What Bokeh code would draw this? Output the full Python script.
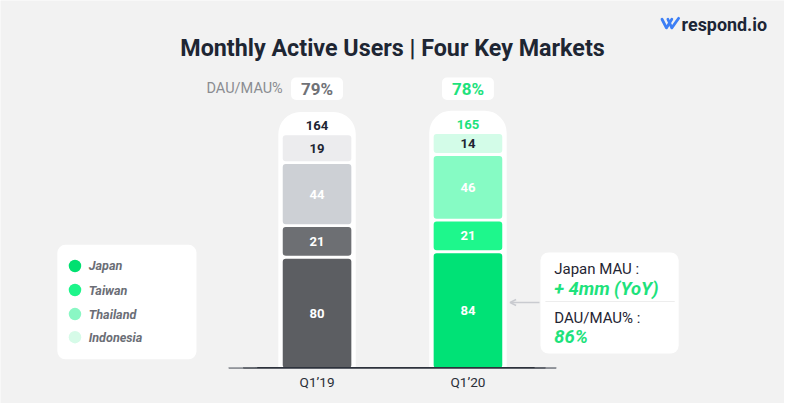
from bokeh.plotting import figure
from bokeh.models import Range1d, Arrow, OpenHead
from bokeh.core.properties import value
from bokeh.embed import file_html
from bokeh.resources import INLINE

# ---------------- data ----------------
quarters = ["Q1\u201919", "Q1\u201920"]
markets = ["Japan", "Taiwan", "Thailand", "Indonesia"]
mau_q119 = [80, 21, 44, 19]
mau_q120 = [84, 21, 46, 14]
totals = [164, 165]
dau_mau = [79, 78]
japan_mau_change = 4      # mm, YoY
japan_dau_mau = 86

# ---------------- styles ----------------
BG = "#f2f2f2"
DARK = "#1f2533"
GREEN_TXT = "#1ee27c"
colors_q119 = ["#5c5e62", "#6d6f73", "#cdd0d5", "#ececee"]
colors_q120 = ["#00e276", "#1ef78c", "#86fbc4", "#d3fce8"]
label_colors = [["white", "white", "white", DARK], ["white", "white", "white", DARK]]
legend_colors = ["#00e070", "#1df58a", "#8af7c4", "#d6fbe8"]

PX = 1.42           # reference pixels per data unit
BASE = 382          # reference pixel row of the baseline
GAP = 3 / PX        # gap between stacked segments (data units)


def Y(py):
    return (BASE - py) / PX


def fs(n):
    return f"{n * 0.97:.1f}px"


FONT = value("Roboto")

p = figure(width=784, height=403, x_range=Range1d(0, 800), y_range=Range1d(Y(419), Y(0)),
           output_backend="svg", toolbar_location=None, min_border=0,
           x_axis_location=None, y_axis_location=None)
p.grid.visible = False
p.outline_line_color = None
p.background_fill_color = BG
p.border_fill_color = BG

centers = [323, 477]
BAR_W = 70
PILL_W = 79

# ---------- pill backgrounds ----------
stack_tops = []
for series in (mau_q119, mau_q120):
    stack_tops.append(sum(series) + GAP * (len(series) - 1))
p.vbar(x=centers, width=PILL_W, bottom=0, top=[t + 17 for t in stack_tops],
       fill_color="white", line_color=None, border_radius=(22, 22, 0, 0))

# ---------- stacked segments ----------
for ci, (series, cols) in enumerate(((mau_q119, colors_q119), (mau_q120, colors_q120))):
    bottoms, tops = [], []
    cum = 0
    for i, v in enumerate(series):
        b = cum + (GAP if i > 0 else 0)
        bottoms.append(b)
        tops.append(b + v)
        cum = b + v
    xs = [centers[ci]] * len(series)
    p.vbar(x=xs, width=BAR_W, bottom=bottoms, top=tops, fill_color=cols,
           line_color=None, border_radius=3)
    p.text(x=xs, y=[(b + t) / 2 for b, t in zip(bottoms, tops)], text=[str(v) for v in series],
           text_color=label_colors[ci], text_font=FONT, text_font_style="bold",
           text_font_size=fs(13.5), text_align="center", text_baseline="middle")

# totals
p.text(x=centers, y=[t + 7 for t in stack_tops], text=[str(t) for t in totals],
       text_color=[DARK, GREEN_TXT], text_font=FONT, text_font_style="bold",
       text_font_size=fs(13.5), text_align="center", text_baseline="middle")

# baseline (dark centre, fading ends)
p.segment(x0=[233], y0=[0], x1=[567], y1=[0], line_color="#2d323c", line_width=1.6)
p.segment(x0=[233, 248, 545, 556], y0=[0] * 4, x1=[248, 262, 556, 567], y1=[0] * 4,
          line_color=["#a4a7ac", "#6a6e75", "#6a6e75", "#a4a7ac"], line_width=1.6)

# quarter labels
p.text(x=centers, y=Y(397), text=quarters, text_color="#2b2f38", text_font=FONT,
       text_font_size=fs(14), text_align="center", text_baseline="middle")

# ---------- DAU/MAU row ----------
p.text(x=[288], y=[Y(92)], text=["DAU/MAU%"], text_color="#8a8c91", text_font=FONT,
       text_font_size=fs(15), text_align="right", text_baseline="middle")
p.quad(left=[c - 26.5 for c in centers], right=[c + 26.5 for c in centers],
       top=Y(80), bottom=Y(103.5), fill_color="white", line_color=None, border_radius=5)
p.text(x=centers, y=Y(92), text=[f"{d}%" for d in dau_mau], text_color=["#707277", GREEN_TXT],
       text_font=FONT, text_font_style="bold", text_font_size=fs(17.5),
       text_align="center", text_baseline="middle")

# ---------- title & logo ----------
p.text(x=[400], y=[Y(49)], text=["Monthly Active Users | Four Key Markets"], text_color="#1e2633",
       text_font=FONT, text_font_style="bold", text_font_size=fs(24),
       text_align="center", text_baseline="middle")
p.multi_line(xs=[[675, 679.5, 685], [681, 685, 692]],
             ys=[[Y(19.5), Y(28.5), Y(19.5)], [Y(19.5), Y(28.5), Y(18.5)]],
             line_color="#3d7ff5", line_width=2.8, line_cap="round", line_join="round")
p.text(x=[695], y=[Y(25)], text=["respond.io"], text_color="#1c2536", text_font=FONT,
       text_font_style="bold", text_font_size=fs(18.5), text_align="left", text_baseline="middle")

# ---------- legend ----------
p.quad(left=[58], right=[200], top=[Y(254)], bottom=[Y(373)], fill_color="white",
       line_color=None, border_radius=8)
leg_y = [Y(276), Y(301), Y(326), Y(350)]
p.scatter(x=[76] * 4, y=leg_y, size=12.5, fill_color=legend_colors, line_color=None)
p.text(x=[90] * 4, y=leg_y, text=markets, text_color="#6b6e76", text_font=FONT,
       text_font_style="bold italic", text_font_size=fs(13), text_align="left",
       text_baseline="middle")

# ---------- annotation ----------
p.quad(left=[551], right=[692], top=[Y(262)], bottom=[Y(367)], fill_color="white",
       line_color=None, border_radius=8)
p.segment(x0=[556], y0=[Y(313)], x1=[688], y1=[Y(313)], line_color="#ededed", line_width=1)
p.text(x=[565, 565], y=[Y(279), Y(330)], text=["Japan MAU :", "DAU/MAU% :"], text_color=DARK,
       text_font=FONT, text_font_size=fs(15.5), text_align="left", text_baseline="middle")
p.text(x=[565, 565], y=[Y(299), Y(349)],
       text=[f"+ {japan_mau_change}mm (YoY)", f"{japan_dau_mau}%"], text_color=GREEN_TXT,
       text_font=FONT, text_font_style="bold italic", text_font_size=fs(19),
       text_align="left", text_baseline="middle")
p.add_layout(Arrow(end=OpenHead(size=6, line_color="#c9cbd0", line_width=1.5),
                   x_start=550, y_start=Y(314), x_end=520, y_end=Y(314),
                   line_color="#c9cbd0", line_width=1.5))

open("out.html", "w").write(file_html(p, INLINE))
